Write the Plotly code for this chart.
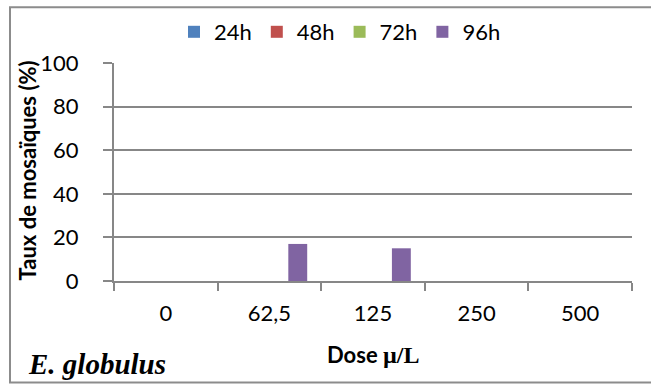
import plotly.graph_objs as go

doses = ['0', '62,5', '125', '250', '500']
taux_24h = [0, 0, 0, 0, 0]
taux_48h = [0, 0, 0, 0, 0]
taux_72h = [0, 0, 0, 0, 0]
taux_96h = [0, 17, 15, 0, 0]

couleurs = {'24h': '#4f81bd', '48h': '#c0504d', '72h': '#9bbb59', '96h': '#8064a2'}

fig = go.Figure()
for nom, vals in [('24h', taux_24h), ('48h', taux_48h), ('72h', taux_72h), ('96h', taux_96h)]:
    fig.add_trace(go.Bar(x=doses, y=vals, name=nom, marker_color=couleurs[nom],
                         marker_line_width=0))

W, H = 651, 387
L, R, T, B = 114, 19, 62, 106
pw, ph = W - L - R, H - T - B

def px(x):
    return (x - L) / pw

def py(y):
    return (H - B - y) / ph

fig.update_layout(
    width=W, height=H,
    margin=dict(l=L, r=R, t=T, b=B),
    paper_bgcolor='white', plot_bgcolor='white',
    font=dict(family='Lato, Open Sans, sans-serif', size=22, color='black'),
    barmode='group', bargap=0.27, bargroupgap=0,
    showlegend=True,
    legend=dict(orientation='h', x=px(340), xanchor='center', y=py(32), yanchor='middle',
                font=dict(size=22), itemwidth=30, traceorder='normal'),
)
fig.update_xaxes(showline=True, linecolor='#878787', linewidth=2,
                 ticks='outside', tickson='boundaries', ticklen=8, tickcolor='#878787',
                 tickwidth=2, showgrid=False, ticklabelstandoff=12)
fig.update_yaxes(range=[0, 100], dtick=20, showline=True, linecolor='#878787', linewidth=2,
                 ticks='outside', ticklen=9, tickcolor='#878787', tickwidth=2,
                 showgrid=True, gridcolor='#878787', gridwidth=2, zeroline=False,
                 ticklabelstandoff=20)

# titres
fig.add_annotation(xref='paper', yref='paper', x=px(28), y=py(170), xanchor='center', yanchor='middle',
                   text='<b>Taux de mosaïques (%)</b>', textangle=-90, showarrow=False,
                   font=dict(size=22))
fig.add_annotation(xref='paper', yref='paper', x=px(373), y=py(355), xanchor='center', yanchor='middle',
                   text='<b>Dose <span style="font-family:Liberation Serif;font-size:24px">µ/L</span></b>',
                   showarrow=False, font=dict(size=22))
fig.add_annotation(xref='paper', yref='paper', x=px(26), y=py(364), xanchor='left', yanchor='middle',
                   text='<b><i>E. globulus</i></b>', showarrow=False,
                   font=dict(family='Liberation Serif', size=29))

# cadre
fig.add_shape(type='rect', xref='paper', yref='paper', x0=px(10), x1=px(660), y0=py(383), y1=py(6),
              line=dict(color='#8c8c8c', width=2))

fig.write_html('out.html', config={'displayModeBar': False},
               post_script="document.body.style.margin='0';")
